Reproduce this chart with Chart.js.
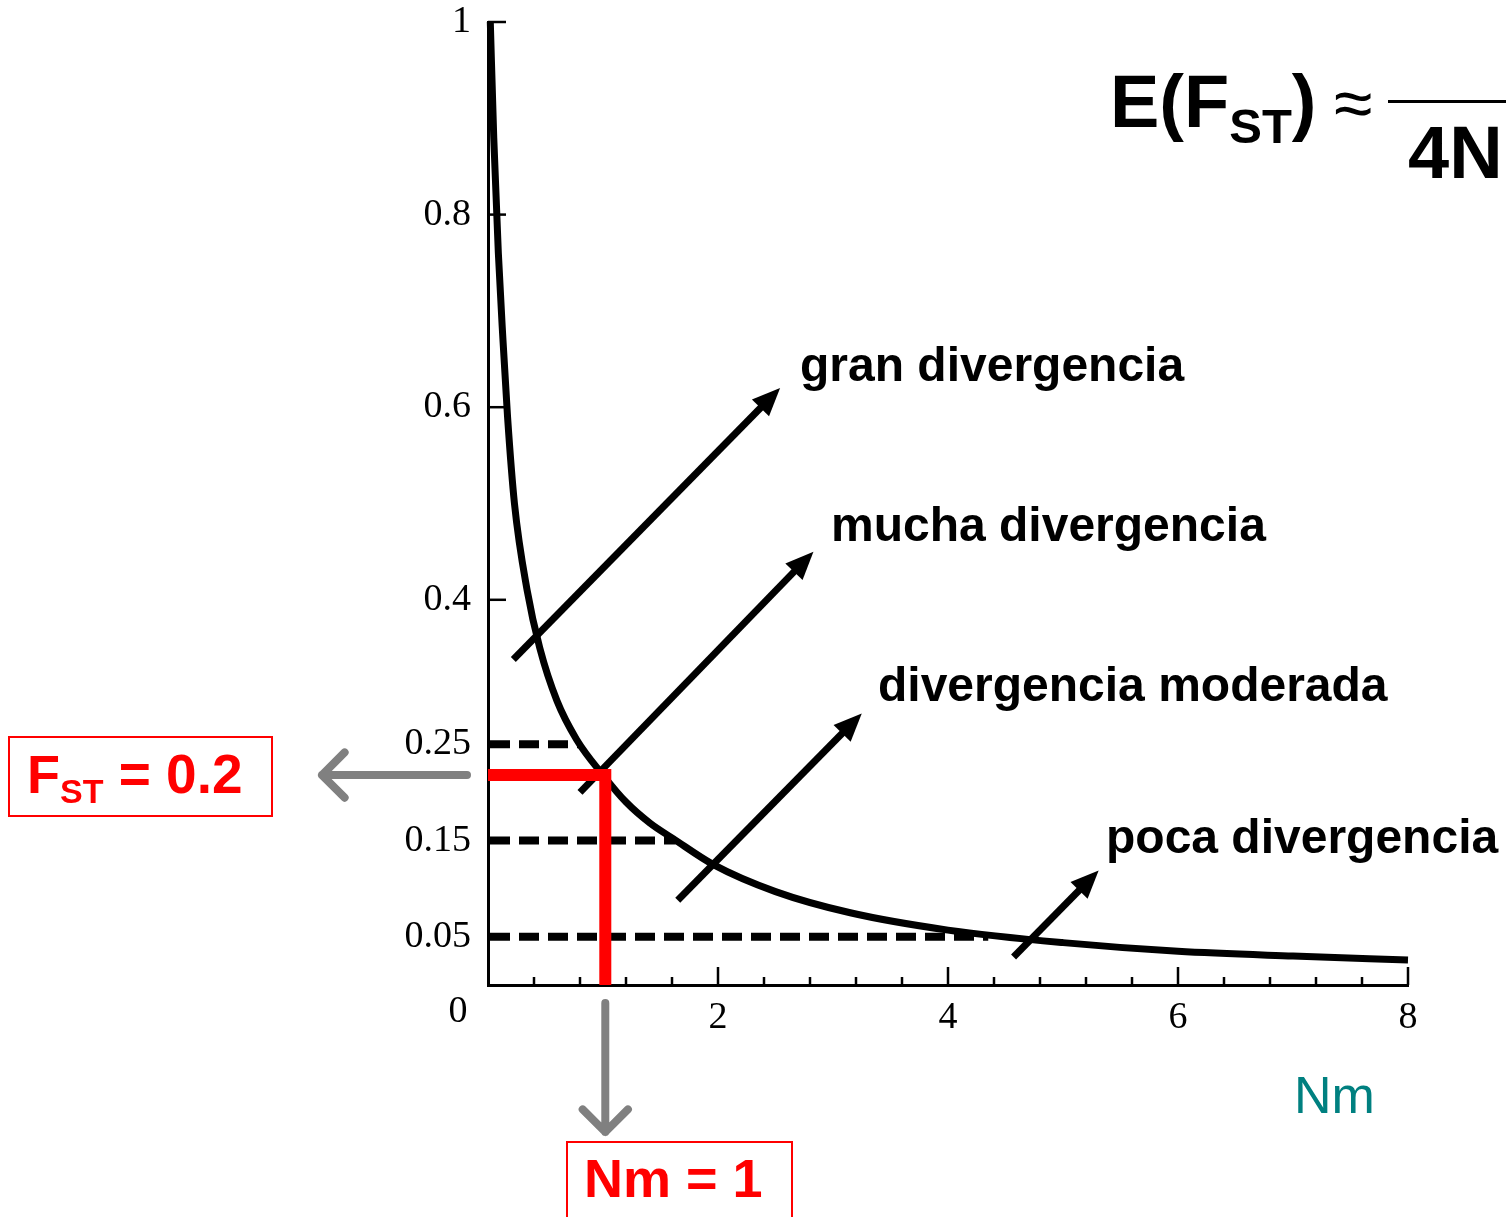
<!DOCTYPE html>
<html>
<head>
<meta charset="utf-8">
<script src="https://cdn.jsdelivr.net/npm/chart.js@4.4.0/dist/chart.umd.min.js"></script>
<style>
    html, body { margin: 0; padding: 0; background: #fff; }
</style>
</head>
<body>
<canvas id="fstChart" width="1506" height="1217"></canvas>
<script>
// --- DATOS ---
const nmValues  = [0.02, 0.05, 0.09, 0.13, 0.17, 0.23, 0.34, 0.45, 0.60, 0.77, 1.00, 1.20, 1.41, 1.61, 1.96, 2.50, 3.15, 4.0, 5.0, 6.0, 7.0, 8.0];
const fstValues = [1.0, 0.88, 0.76, 0.67, 0.59, 0.50, 0.41, 0.35, 0.295, 0.255, 0.218, 0.19, 0.168, 0.152, 0.125, 0.097, 0.075, 0.057, 0.044, 0.035, 0.030, 0.026];

const yTickValues = [0.05, 0.15, 0.25, 0.4, 0.6, 0.8, 1];
const yTickMarks = [0.4, 0.6, 0.8, 1];
const xTickLabels = [2, 4, 6, 8];
const xMinorStep = 0.4;

// líneas discontinuas: nivel de Fst y Nm donde tocan la curva
const guideLevels = [0.25, 0.15, 0.05];
const guideEnds = [0.79, 1.63, 4.35];

// punto marcado en rojo
const markedNm = 1.02;
const markedFst = 0.218;

const zoneLabels = ['gran divergencia', 'mucha divergencia', 'divergencia moderada', 'poca divergencia'];

// --- ANOTACIONES (coordenadas en unidades de los ejes) ---
const arrowTails = [[0.22, 0.338], [0.80, 0.200], [1.65, 0.088], [4.57, 0.029]];
const arrowTips  = [[2.54, 0.620], [2.83, 0.450], [3.25, 0.282], [5.31, 0.119]];
const labelPos = [[800, 381], [831, 541], [878, 701], [1106, 853]];

const SANS = '"Liberation Sans", Arial, sans-serif';
const SERIF = '"Liberation Serif", "Times New Roman", serif';

function drawArrow(ctx, x1, y1, x2, y2) {
    const ang = Math.atan2(y2 - y1, x2 - x1);
    const head = 28, half = 12;
    const bx = x2 - head * Math.cos(ang), by = y2 - head * Math.sin(ang);
    ctx.beginPath();
    ctx.moveTo(x1, y1);
    ctx.lineTo(bx + 2 * Math.cos(ang), by + 2 * Math.sin(ang));
    ctx.stroke();
    ctx.beginPath();
    ctx.moveTo(x2, y2);
    ctx.lineTo(bx - half * Math.sin(ang), by + half * Math.cos(ang));
    ctx.lineTo(bx + half * Math.sin(ang), by - half * Math.cos(ang));
    ctx.closePath();
    ctx.fill();
}

function drawChevronArrow(ctx, x1, y1, x2, y2) {
    const ang = Math.atan2(y2 - y1, x2 - x1);
    const arm = 32;
    ctx.beginPath();
    ctx.moveTo(x1, y1);
    ctx.lineTo(x2, y2);
    ctx.moveTo(x2 - arm * Math.cos(ang - Math.PI / 4), y2 - arm * Math.sin(ang - Math.PI / 4));
    ctx.lineTo(x2, y2);
    ctx.lineTo(x2 - arm * Math.cos(ang + Math.PI / 4), y2 - arm * Math.sin(ang + Math.PI / 4));
    ctx.stroke();
}

function drawParts(ctx, x, parts) {
    parts.forEach(p => {
        ctx.font = p.font;
        ctx.fillText(p.text, x, p.y);
        x += ctx.measureText(p.text).width;
    });
    return x;
}

const overlayPlugin = {
    id: 'overlay',
    beforeDatasetsDraw(chart) {
        const { ctx, scales: { x, y } } = chart;
        ctx.save();
        ctx.strokeStyle = '#000';
        ctx.lineWidth = 8;
        ctx.setLineDash([20, 9]);
        guideLevels.forEach((lvl, i) => {
            const py = y.getPixelForValue(lvl);
            ctx.beginPath();
            ctx.moveTo(x.getPixelForValue(0) + 2, py);
            ctx.lineTo(x.getPixelForValue(guideEnds[i]), py);
            ctx.stroke();
        });
        ctx.restore();
    },
    afterDatasetsDraw(chart) {
        const { ctx, scales: { x, y } } = chart;
        ctx.save();
        // flechas negras
        ctx.strokeStyle = '#000';
        ctx.fillStyle = '#000';
        ctx.lineWidth = 7;
        arrowTails.forEach((t, i) => {
            drawArrow(ctx, x.getPixelForValue(t[0]), y.getPixelForValue(t[1]),
                x.getPixelForValue(arrowTips[i][0]), y.getPixelForValue(arrowTips[i][1]));
        });

        // marcas de los ejes hacia dentro
        ctx.lineWidth = 2.5;
        const x0 = x.getPixelForValue(0), y0 = y.getPixelForValue(0);
        yTickMarks.forEach(v => {
            const py = y.getPixelForValue(v);
            ctx.beginPath(); ctx.moveTo(x0, py); ctx.lineTo(x0 + 18, py); ctx.stroke();
        });
        x.ticks.forEach(t => {
            if (t.value <= 0) return;
            const px = x.getPixelForValue(t.value);
            const major = xTickLabels.includes(Math.round(t.value * 10) / 10);
            ctx.beginPath(); ctx.moveTo(px, y0); ctx.lineTo(px, y0 - (major ? 18 : 8)); ctx.stroke();
        });

        // líneas rojas
        ctx.strokeStyle = '#ff0000';
        ctx.lineWidth = 12;
        ctx.lineJoin = 'miter';
        const rx = x.getPixelForValue(markedNm), ry = y.getPixelForValue(markedFst);
        ctx.beginPath();
        ctx.moveTo(x0, ry);
        ctx.lineTo(rx, ry);
        ctx.lineTo(rx, y0);
        ctx.stroke();
        ctx.restore();
    },
    afterDraw(chart) {
        const { ctx, scales: { x, y } } = chart;
        const x0 = x.getPixelForValue(0), y0 = y.getPixelForValue(0);
        const rx = x.getPixelForValue(markedNm), ry = y.getPixelForValue(markedFst);
        ctx.save();

        // origen "0"
        ctx.fillStyle = '#000';
        ctx.font = '38px ' + SERIF;
        ctx.textAlign = 'center';
        ctx.textBaseline = 'middle';
        ctx.fillText('0', x0 - 30, y0 + 27);

        // etiquetas de divergencia
        ctx.textAlign = 'left';
        ctx.textBaseline = 'alphabetic';
        ctx.font = 'bold 48px ' + SANS;
        zoneLabels.forEach((txt, i) => ctx.fillText(txt, labelPos[i][0], labelPos[i][1]));

        // fórmula
        drawParts(ctx, 1110, [
            { text: 'E(F', font: 'bold 74px ' + SANS, y: 127 },
            { text: 'ST', font: 'bold 49px ' + SANS, y: 143 },
            { text: ')', font: 'bold 74px ' + SANS, y: 127 }
        ]);
        ctx.font = '70px ' + SANS;
        ctx.fillText('≈', 1334, 127);
        ctx.fillRect(1388, 100, 118, 3);
        ctx.font = 'bold 74px ' + SANS;
        ctx.fillText('4N', 1408, 178);

        // eje Nm
        ctx.fillStyle = '#008080';
        ctx.font = '52px ' + SANS;
        ctx.fillText('Nm', 1294, 1113);

        // flechas grises
        ctx.strokeStyle = '#808080';
        ctx.lineWidth = 8;
        ctx.lineCap = 'round';
        ctx.lineJoin = 'round';
        drawChevronArrow(ctx, x0 - 21, ry, 322, ry);
        drawChevronArrow(ctx, rx, y0 + 18, rx, 1132);

        // cajas rojas
        ctx.strokeStyle = '#ff0000';
        ctx.lineWidth = 2;
        ctx.lineCap = 'butt';
        ctx.lineJoin = 'miter';
        ctx.strokeRect(9, 737, 263, 79);
        ctx.strokeRect(567, 1142, 225, 100);

        ctx.fillStyle = '#ff0000';
        drawParts(ctx, 27, [
            { text: 'F', font: 'bold 54px ' + SANS, y: 793 },
            { text: 'ST', font: 'bold 34px ' + SANS, y: 803 },
            { text: ' = 0.2', font: 'bold 55px ' + SANS, y: 793 }
        ]);
        ctx.font = 'bold 54px ' + SANS;
        ctx.fillText('Nm = 1', 584, 1197);
        ctx.restore();
    }
};

const points = nmValues.map((v, i) => ({ x: v, y: fstValues[i] }));

new Chart(document.getElementById('fstChart'), {
    type: 'line',
    data: {
        datasets: [{
            data: points,
            borderColor: '#000',
            borderWidth: 7,
            pointRadius: 0,
            fill: false,
            cubicInterpolationMode: 'monotone',
            clip: false
        }]
    },
    options: {
        responsive: false,
        animation: false,
        devicePixelRatio: 1,
        layout: { padding: { left: 0, top: 0, right: 98, bottom: 0 } },
        plugins: { legend: { display: false }, tooltip: { enabled: false } },
        scales: {
            x: {
                type: 'linear',
                min: 0,
                max: 8,
                grid: { display: false, drawTicks: false },
                border: { display: true, color: '#000', width: 3 },
                afterBuildTicks: scale => {
                    const t = [];
                    for (let i = 0; i * xMinorStep <= 8.0001; i++) t.push({ value: Math.round(i * xMinorStep * 10) / 10 });
                    scale.ticks = t;
                },
                afterFit: scale => { scale.height = 232; },
                ticks: {
                    autoSkip: false,
                    maxRotation: 0,
                    padding: 10,
                    color: '#000',
                    font: { family: SERIF, size: 38 },
                    callback: v => xTickLabels.includes(Math.round(v * 10) / 10) ? String(Math.round(v)) : ''
                }
            },
            y: {
                type: 'linear',
                min: 0,
                max: 1,
                grid: { display: false, drawTicks: false },
                border: { display: true, color: '#000', width: 3 },
                afterBuildTicks: scale => { scale.ticks = yTickValues.map(v => ({ value: v })); },
                afterFit: scale => { scale.width = 488; scale.paddingTop = 22; },
                ticks: {
                    autoSkip: false,
                    padding: 17,
                    color: '#000',
                    font: { family: SERIF, size: 38 },
                    callback: v => String(v)
                }
            }
        }
    },
    plugins: [overlayPlugin]
});
</script>
</body>
</html>
